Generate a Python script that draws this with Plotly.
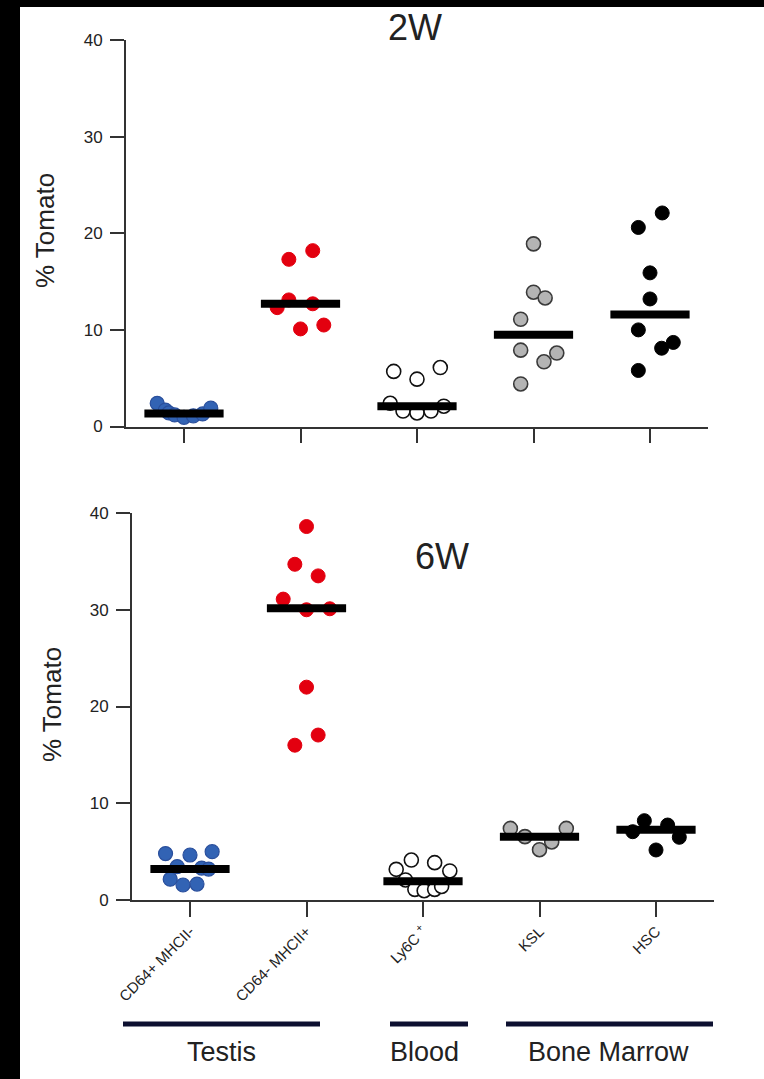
import plotly.graph_objects as go

# ---------------------------------------------------------------- data
categories = ["CD64+ MHCII-", "CD64- MHCII+", "Ly6C <sup>+</sup>", "KSL", "HSC"]
groups = ["Testis", "Blood", "Bone Marrow"]

# % Tomato+ cells, 2 weeks
w2_cd64pos_mhcneg = [2.4, 1.7, 1.4, 1.2, 0.95, 1.1, 1.3, 1.9]
w2_cd64neg_mhcpos = [17.3, 18.2, 13.1, 12.7, 12.3, 10.1, 10.5]
w2_ly6c = [5.7, 4.9, 6.1, 2.4, 1.6, 1.4, 1.6, 2.1]
w2_ksl = [18.9, 13.9, 13.3, 11.1, 7.9, 7.6, 6.7, 4.4]
w2_hsc = [22.1, 20.6, 15.9, 13.2, 10.0, 8.7, 8.1, 5.8]
w2_means = [1.35, 12.7, 2.1, 9.5, 11.6]

# % Tomato+ cells, 6 weeks
w6_cd64pos_mhcneg = [4.8, 4.65, 5.0, 3.45, 3.3, 3.2, 2.15, 1.55, 1.65]
w6_cd64neg_mhcpos = [38.6, 34.7, 33.5, 31.1, 30.0, 30.1, 22.0, 17.05, 16.0]
w6_ly6c = [4.13, 3.86, 3.17, 3.0, 2.07, 1.1, 0.96, 1.1, 1.4]
w6_ksl = [7.4, 7.4, 6.55, 6.0, 5.2]
w6_hsc = [8.2, 7.75, 7.06, 6.48, 5.17]
w6_means = [3.2, 30.15, 1.95, 6.55, 7.25]

# ---------------------------------------------------------------- layout helpers
W, H = 764, 1079

# horizontal spread of the dots inside each column (scatter-plot swarm layout)
w2_dx = [
    [-0.23, -0.16, -0.13, -0.08, 0.0, 0.08, 0.16, 0.23],
    [-0.10, 0.105, -0.10, 0.105, -0.20, 0.0, 0.20],
    [-0.20, 0.0, 0.20, -0.23, -0.12, 0.0, 0.12, 0.23],
    [0.0, 0.0, 0.10, -0.11, -0.11, 0.20, 0.09, -0.11],
    [0.105, -0.10, 0.0, 0.0, -0.10, 0.20, 0.10, -0.10],
]
w6_dx = [
    [-0.21, 0.0, 0.19, -0.11, 0.10, 0.16, -0.17, -0.06, 0.06],
    [0.0, -0.10, 0.10, -0.20, 0.0, 0.20, 0.0, 0.10, -0.10],
    [-0.10, 0.10, -0.23, 0.23, -0.15, -0.07, 0.01, 0.10, 0.16],
    [-0.25, 0.23, -0.125, 0.105, 0.0],
    [-0.10, 0.10, -0.20, 0.20, 0.0],
]

styles = [
    dict(color="#3263b4", line=dict(color="#2a4f9c", width=1.2)),
    dict(color="#e3000f", line=dict(color="#e3000f", width=1)),
    dict(color="#ffffff", line=dict(color="#111111", width=1.6)),
    dict(color="#b4b4b4", line=dict(color="#3a3a3a", width=1.6)),
    dict(color="#000000", line=dict(color="#000000", width=1)),
]

BAR_HALF = 0.34
FONT = "Liberation Sans, Arial, sans-serif"

fig = go.Figure()


def add_panel(series, offsets, means, xa, ya):
    for i, (vals, dx) in enumerate(zip(series, offsets)):
        fig.add_trace(go.Scatter(
            x=[i + d for d in dx], y=vals, mode="markers",
            marker=dict(size=14, **styles[i]),
            xaxis=xa, yaxis=ya, showlegend=False, hoverinfo="y",
        ))
    for i, m in enumerate(means):
        fig.add_trace(go.Scatter(
            x=[i - BAR_HALF, i + BAR_HALF], y=[m, m], mode="lines",
            line=dict(color="#000000", width=8),
            xaxis=xa, yaxis=ya, showlegend=False, hoverinfo="skip",
        ))


add_panel([w2_cd64pos_mhcneg, w2_cd64neg_mhcpos, w2_ly6c, w2_ksl, w2_hsc],
          w2_dx, w2_means, "x", "y")
add_panel([w6_cd64pos_mhcneg, w6_cd64neg_mhcpos, w6_ly6c, w6_ksl, w6_hsc],
          w6_dx, w6_means, "x2", "y2")


def px_x(p):
    return p / W


def px_y(p):
    return 1 - p / H


axis_common = dict(
    showline=True, linecolor="#333333", linewidth=1.5,
    ticks="outside", tickcolor="#333333", tickwidth=1.5,
    showgrid=False, zeroline=False, automargin=False,
)

xcommon = dict(axis_common, range=[-0.5, 4.5], tickmode="array",
               tickvals=list(range(len(categories))), ticklen=15)
ycommon = dict(axis_common, range=[0, 40], tickmode="array",
               tickvals=[0, 10, 20, 30, 40], ticklen=14,
               ticklabelstandoff=4,
               tickfont=dict(family=FONT, size=17, color="#222222"))

fig.update_layout(
    width=W, height=H,
    margin=dict(l=0, r=0, t=0, b=0),
    paper_bgcolor="#ffffff", plot_bgcolor="#ffffff",
    template="none",
    xaxis=dict(xcommon, domain=[px_x(125.75), px_x(708.25)],
               ticktext=categories, showticklabels=False, anchor="y"),
    yaxis=dict(ycommon, domain=[px_y(426.5), px_y(40)], anchor="x"),
    xaxis2=dict(xcommon, domain=[px_x(131.75), px_x(714.25)],
                ticktext=categories, showticklabels=True, tickangle=-45,
                tickfont=dict(family=FONT, size=15, color="#222222"),
                anchor="y2"),
    yaxis2=dict(ycommon, domain=[px_y(900), px_y(513)], anchor="x2"),
)

annotations = [
    dict(text="2W", x=px_x(415), y=px_y(27), font=dict(size=36)),
    dict(text="6W", x=px_x(442), y=px_y(556), font=dict(size=36)),
    dict(text="% Tomato", x=px_x(45), y=px_y(231), textangle=-90, font=dict(size=26)),
    dict(text="% Tomato", x=px_x(52), y=px_y(705), textangle=-90, font=dict(size=26)),
]

# tissue brackets under the 6W panel
bracket_px = [(123, 320), (390, 468), (506, 713)]
label_px = [221, 425, 608]
shapes = []
for (a, b), cx, name in zip(bracket_px, label_px, groups):
    shapes.append(dict(type="line", xref="paper", yref="paper",
                       x0=px_x(a), x1=px_x(b), y0=px_y(1024), y1=px_y(1024),
                       line=dict(color="#0d1030", width=5)))
    annotations.append(dict(text=name, x=px_x(cx), y=px_y(1052), font=dict(size=27)))

# dark frame edges along the left and top of the page
shapes.append(dict(type="rect", xref="paper", yref="paper", x0=0, x1=px_x(20),
                   y0=0, y1=1, fillcolor="#000000", line=dict(width=0), layer="above"))
shapes.append(dict(type="rect", xref="paper", yref="paper", x0=0, x1=1,
                   y0=px_y(7), y1=1, fillcolor="#000000", line=dict(width=0), layer="above"))

for a in annotations:
    a.update(xref="paper", yref="paper", showarrow=False,
             xanchor="center", yanchor="middle")
    a["font"].update(family=FONT, color="#222222")

fig.update_layout(annotations=annotations, shapes=shapes)

fig.write_html("out.html")
